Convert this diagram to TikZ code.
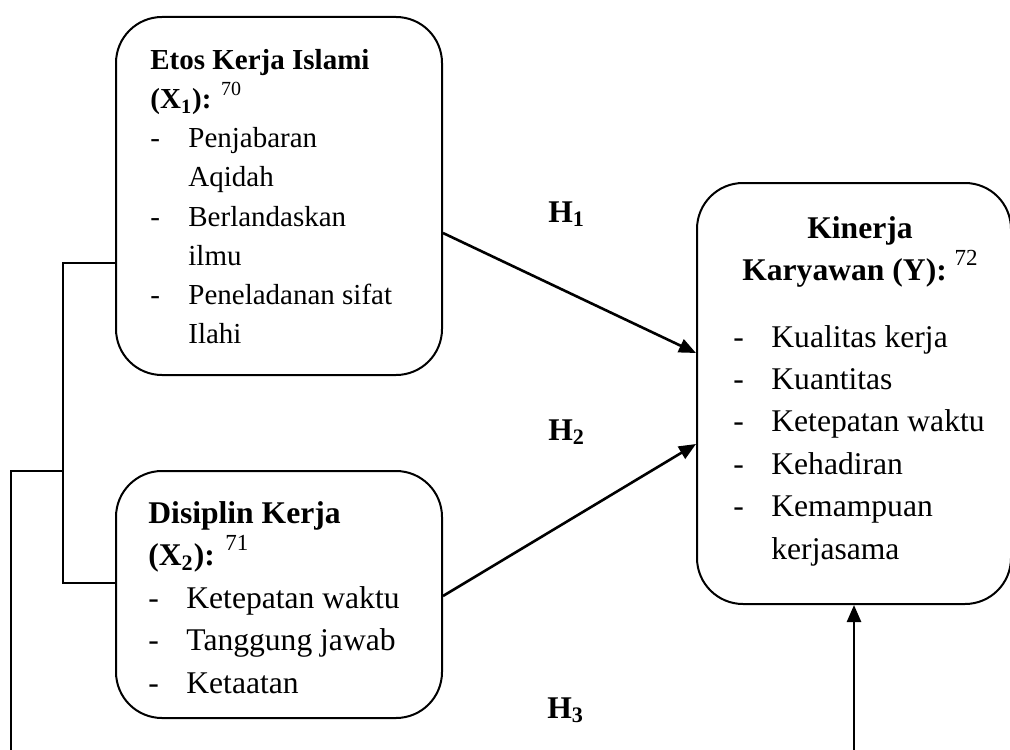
\documentclass[tikz,border=0pt]{standalone}
\usepackage{fontspec}
\setmainfont{Liberation Serif}
\usetikzlibrary{arrows.meta}
\newcommand\fnA[1]{\raisebox{6.5pt}{\fontsize{10}{10}\selectfont #1}}
\newcommand\fnB[1]{\raisebox{7.5pt}{\fontsize{11.5}{11.5}\selectfont #1}}
\newcommand\dsh{\makebox[19pt][l]{-}}
\newcommand\ind{\hspace*{19pt}}
\tikzset{
  box/.style={draw, line width=1pt, rounded corners=23pt, inner sep=0pt},
  big/.style={font=\fontsize{15.8}{21.2}\selectfont},
  small/.style={font=\fontsize{14.5}{19.5}\selectfont},
  txt/.style={inner sep=0pt, anchor=base west},
  arr/.style={line width=1.3pt, -{Triangle[length=8.5pt,width=7pt]}},
  link/.style={line width=0.9pt},
}
\begin{document}
\begin{tikzpicture}[x=0.5pt,y=-0.5pt]
\clip (0,0) rectangle (1010,749);
\useasboundingbox (0,0) rectangle (1010,749);

% boxes
\node[box, minimum width=163pt, minimum height=179pt] (x1) at (279,196) {};
\node[box, minimum width=163pt, minimum height=123.5pt] (x2) at (279,594.5) {};
\node[box, minimum width=157pt, minimum height=210.5pt] (y) at (854,393.5) {};

% texts
\node[txt, small] (x1t) at (150,70) {\begin{tabular}[t]{@{}l@{}}
\textbf{Etos Kerja Islami}\\
\textbf{(X\textsubscript{1}):} \fnA{70}\\
\dsh Penjabaran\\
\ind Aqidah\\
\dsh Berlandaskan\\
\ind ilmu\\
\dsh Peneladanan sifat\\
\ind Ilahi
\end{tabular}};

\node[txt, big] (x2t) at (148,523) {\begin{tabular}[t]{@{}l@{}}
\textbf{Disiplin Kerja}\\
\textbf{(X\textsubscript{2}):} \fnB{71}\\
\dsh Ketepatan waktu\\
\dsh Tanggung jawab\\
\dsh Ketaatan
\end{tabular}};

\node[inner sep=0pt, anchor=base, big] (yt) at (860,238) {\begin{tabular}[t]{@{}c@{}}
\textbf{Kinerja}\\
\textbf{Karyawan (Y):} \fnB{72}
\end{tabular}};

\node[txt, big] (yi) at (733,347) {\begin{tabular}[t]{@{}l@{}}
\dsh Kualitas kerja\\
\dsh Kuantitas\\
\dsh Ketepatan waktu\\
\dsh Kehadiran\\
\dsh Kemampuan\\
\ind kerjasama
\end{tabular}};

% hypothesis labels
\node[txt, big] (h1) at (548,222) {\textbf{H\textsubscript{1}}};
\node[txt, big] (h2) at (548,440) {\textbf{H\textsubscript{2}}};
\node[txt, big] (h3) at (547,718) {\textbf{H\textsubscript{3}}};

% connectors
\coordinate (s1) at (442,233);
\coordinate (e1) at (698,353);
\draw[arr] (x1.east |- s1) -- (y.west |- e1);
\coordinate (s2) at (442,596);
\coordinate (e2) at (698,444);
\draw[arr] (x2.east |- s2) -- (y.west |- e2);

\coordinate (b1) at (63,263);
\coordinate (b2) at (63,583);
\coordinate (j) at (63,471);
\draw[link] (x1.west |- b1) -- (b1) -- (b2) -- (x2.west |- b2);
\draw[link] (j) -- (11,471) -- (11,800) coordinate (lb);
\draw[arr] (lb) -| (y.south);
\end{tikzpicture}
\end{document}
